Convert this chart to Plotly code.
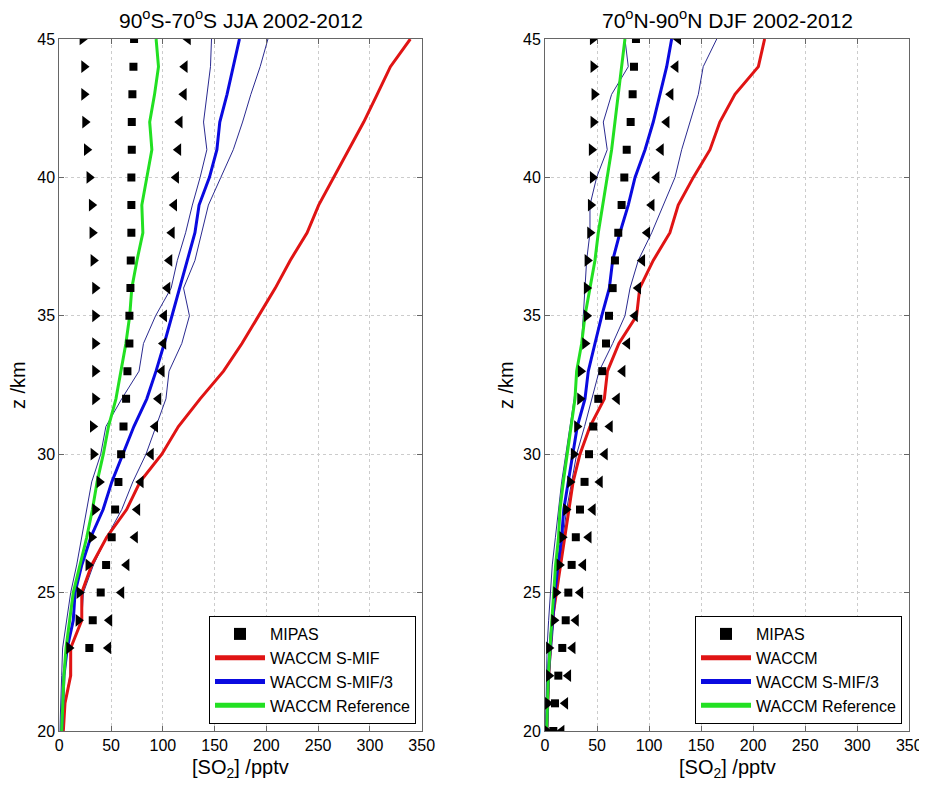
import plotly.graph_objects as go

# ---------------- data ----------------
z_lines = list(range(20, 46))

# Left panel: 90S-70S JJA
z_mipas_s = list(range(23, 46))
mipas_s = [29, 32.3, 40, 45.2, 50.6, 53.9, 57.1, 59.7, 62, 64.5, 65.8, 67.7, 67.7,
           68.7, 69, 69.6, 69.6, 69.6, 70, 70, 70.6, 71.6, 72.2]
mipas_s_lo = [9.4, 18.4, 19.4, 28, 31.3, 34.5, 38.7, 32.9, 32.3, 34.5, 34.5, 34.5, 34.5,
              34.5, 32.9, 31.9, 31.3, 29, 26.5, 24.9, 23.9, 23.9, 22.3]
mipas_s_hi = [47.4, 48.4, 60, 65, 73.2, 75.4, 78.7, 88.5, 92.7, 95.8, 99, 100.6, 101.3,
              104.5, 106.4, 108.7, 111, 112.9, 115, 116.3, 120.3, 121.2, 124.3]
smif_s = [3.9, 5.5, 11, 11, 21.7, 21.7, 31.3, 45.8, 65, 78, 99, 115, 136, 158.6, 176.4,
          192.5, 208.6, 223, 239.3, 250.5, 265, 279.5, 294, 307, 319.8, 339]
smif3_s = [2.3, 3.2, 4.5, 7.7, 13.5, 15.2, 21.7, 30.4, 42.3, 50.7, 61.5, 72, 84.5, 93.4,
           101.4, 108.8, 115.5, 123, 131, 135, 145, 152.2, 155, 162, 168, 174]
smif3_s_lo = [0.5, 1.1, 2.3, 3.2, 7.1, 11, 16.8, 21.7, 26.5, 31.3, 40, 45, 60.3, 77, 81.3,
              93, 108, 114, 122, 128.5, 136, 142.5, 139.3, 143, 146, 147]
smif3_s_hi = [3.9, 5.5, 10.3, 11, 21.7, 23.3, 33, 45.8, 60.3, 71, 83.7, 93.4, 103, 106,
              118.3, 125.7, 120, 131, 137.5, 144, 156, 168, 177, 185, 194, 201.5]
ref_s = [2.3, 3.2, 4.5, 6.5, 10.3, 13.5, 20, 26.5, 32, 36.5, 42.5, 47.5, 54.7, 59.5, 64.3,
         68, 70, 75, 80.7, 79.7, 84.8, 89.4, 87.3, 92, 95.8, 93.5]

# Right panel: 70N-90N DJF
z_mipas_n = list(range(20, 46))
mipas_n = [8, 9.6, 12.8, 16.6, 19.9, 22.4, 25.6, 29.6, 33.6, 38, 42.3, 46.4, 51.2, 55,
           58.6, 61.5, 65, 67.2, 70.4, 73.6, 76.2, 78.5, 82.3, 84.2, 85.5, 87.4]
mipas_n_lo = [1.6, 2.7, 3.7, 3.7, 8.6, 10.6, 13.8, 16.5, 20.2, 24, 27.5, 30.7, 33.6, 34.2,
              38.4, 40, 40, 40.7, 43.2, 43.9, 45.8, 44.8, 46.4, 47.4, 46.4, 45.8]
mipas_n_hi = [16, 19.5, 22.4, 26.6, 29.8, 34, 36.8, 42, 46, 52.8, 57.6, 62.4, 69.2, 74.6,
              79.1, 86.5, 89.6, 93.5, 98.3, 102.5, 107.3, 111.4, 116.9, 120.7, 125.5, 128]
waccm_n = [1.8, 2.5, 3.5, 5, 7, 11, 15, 19, 22.4, 27, 33.6, 43.2, 57, 60, 71, 88, 91, 104,
           120, 128, 142.5, 158.5, 168, 182.5, 205, 211]
smif3_n = [1.6, 2.3, 3.2, 4.8, 7, 9.6, 12.5, 16, 18, 22.5, 26.5, 31, 38.4, 41.6, 48, 54.5,
           61.8, 65, 72, 80, 86.5, 96.1, 104, 110.5, 116.9, 121.7]
smif3_n_lo = [0.5, 0.8, 1, 2, 3.5, 5, 7, 10, 13, 16, 20, 24, 28, 31, 35, 36.8, 38.4, 40,
              43.2, 43.2, 49.6, 59.8, 56, 64, 80, 76.8]
smif3_n_hi = [1.8, 3, 4.2, 6.4, 8.6, 10.6, 14, 17.6, 20.8, 25.6, 30.4, 38, 45, 52, 65, 76.8,
              81.7, 89.6, 102.5, 113.6, 124.9, 131.3, 139.3, 147.3, 152, 165]
ref_n = [1.6, 2.3, 3.2, 4.8, 6.4, 8, 10.2, 13, 14.4, 17.6, 21.5, 25.6, 28.8, 30.4, 35.2,
         38.4, 43.2, 48, 51.2, 55.4, 59.9, 64, 67.2, 70.4, 73.6, 76.8]

x_ticks = [0, 50, 100, 150, 200, 250, 300, 350]
y_ticks = [20, 25, 30, 35, 40, 45]

titles = ["90<sup>o</sup>S-70<sup>o</sup>S JJA 2002-2012",
          "70<sup>o</sup>N-90<sup>o</sup>N DJF 2002-2012"]
legend_names = [["MIPAS", "WACCM S-MIF", "WACCM S-MIF/3", "WACCM Reference"],
                ["MIPAS", "WACCM", "WACCM S-MIF/3", "WACCM Reference"]]

# ---------------- styles ----------------
RED = "#e01414"
BLUE = "#0a0ae0"
THIN = "#2a2a90"
GREEN = "#22e022"
FONT = "Arial, Liberation Sans, sans-serif"

fig = go.Figure()

panels = [
    dict(xa="x", ya="y", leg="legend", zm=z_mipas_s, m=mipas_s, mlo=mipas_s_lo, mhi=mipas_s_hi,
         red=smif_s, blue=smif3_s, blo=smif3_s_lo, bhi=smif3_s_hi, green=ref_s),
    dict(xa="x2", ya="y2", leg="legend2", zm=z_mipas_n, m=mipas_n, mlo=mipas_n_lo, mhi=mipas_n_hi,
         red=waccm_n, blue=smif3_n, blo=smif3_n_lo, bhi=smif3_n_hi, green=ref_n),
]

for i, p in enumerate(panels):
    names = legend_names[i]
    common = dict(xaxis=p["xa"], yaxis=p["ya"], legend=p["leg"])
    fig.add_trace(go.Scatter(x=p["blo"], y=z_lines, mode="lines", line=dict(color=THIN, width=1),
                             showlegend=False, **common))
    fig.add_trace(go.Scatter(x=p["bhi"], y=z_lines, mode="lines", line=dict(color=THIN, width=1),
                             showlegend=False, **common))
    fig.add_trace(go.Scatter(x=p["red"], y=z_lines, mode="lines", name=names[1], legendrank=2,
                             line=dict(color=RED, width=3), **common))
    fig.add_trace(go.Scatter(x=p["blue"], y=z_lines, mode="lines", name=names[2], legendrank=3,
                             line=dict(color=BLUE, width=3), **common))
    fig.add_trace(go.Scatter(x=p["green"], y=z_lines, mode="lines", name=names[3], legendrank=4,
                             line=dict(color=GREEN, width=3), **common))
    fig.add_trace(go.Scatter(x=p["mlo"], y=p["zm"], mode="markers", showlegend=False,
                             marker=dict(symbol="triangle-right", size=11, color="black"), **common))
    fig.add_trace(go.Scatter(x=p["mhi"], y=p["zm"], mode="markers", showlegend=False,
                             marker=dict(symbol="triangle-left", size=11, color="black"), **common))
    fig.add_trace(go.Scatter(x=p["m"], y=p["zm"], mode="markers", name=names[0], legendrank=1,
                             marker=dict(symbol="square", size=8, color="black"), **common))

# The page body has an 8px margin, so the figure is drawn 8px smaller and
# every pixel position below is the reference position minus 8.
OFF = 8.0
W, H = 927 - 8, 786 - 8


def px(v):
    return (v - OFF) / W


def py(v):
    return 1 - (v - OFF) / H


xdom = [[px(59.3), px(421.7)], [px(545.0), px(909.3)]]
ydom = [py(731.0), py(39.0)]

axis_common = dict(showline=True, linecolor="#666666", linewidth=1, mirror="ticks",
                   ticks="inside", ticklen=5, tickcolor="#666666", automargin=False,
                   showgrid=True, gridcolor="#cccccc", griddash="dot", gridwidth=1,
                   zeroline=False, tickfont=dict(family=FONT, size=16, color="black"))

layout_axes = {}
for i in range(2):
    sx = "" if i == 0 else "2"
    layout_axes["xaxis" + sx] = dict(domain=xdom[i], range=[0, 350], tickvals=x_ticks,
                                     anchor="y" + sx, **axis_common)
    layout_axes["yaxis" + sx] = dict(domain=ydom, range=[20, 45], tickvals=y_ticks,
                                     anchor="x" + sx, **axis_common)

legend_common = dict(bgcolor="white", bordercolor="black", borderwidth=1,
                     font=dict(family=FONT, size=16, color="black"),
                     xanchor="right", yanchor="bottom", tracegroupgap=0,
                     itemsizing="constant", itemwidth=50)

fig.update_layout(
    width=W, height=H, autosize=False,
    margin=dict(l=0, r=0, t=0, b=0, pad=0, autoexpand=False),
    paper_bgcolor="white", plot_bgcolor="white",
    font=dict(family=FONT, color="black"),
    legend=dict(x=px(416.0), y=py(724.0), **legend_common),
    legend2=dict(x=px(902.0), y=py(724.0), **legend_common),
    **layout_axes,
)

annotations = []
for i in range(2):
    cx = (xdom[i][0] + xdom[i][1]) / 2
    annotations.append(dict(text=titles[i], x=cx, y=py(19.0), xref="paper", yref="paper",
                            showarrow=False, font=dict(family=FONT, size=21, color="black"),
                            xanchor="center", yanchor="middle"))
    annotations.append(dict(text="[SO<sub>2</sub>] /pptv", x=cx, y=py(768.0), xref="paper",
                            yref="paper", showarrow=False,
                            font=dict(family=FONT, size=20, color="black"),
                            xanchor="center", yanchor="middle"))
    yx = [18.0, 506.0][i]
    annotations.append(dict(text="z /km", x=px(yx), y=(ydom[0] + ydom[1]) / 2, xref="paper",
                            yref="paper", showarrow=False, textangle=-90,
                            font=dict(family=FONT, size=20, color="black"),
                            xanchor="center", yanchor="middle"))
fig.update_layout(annotations=annotations)

fig.write_html("out.html")
